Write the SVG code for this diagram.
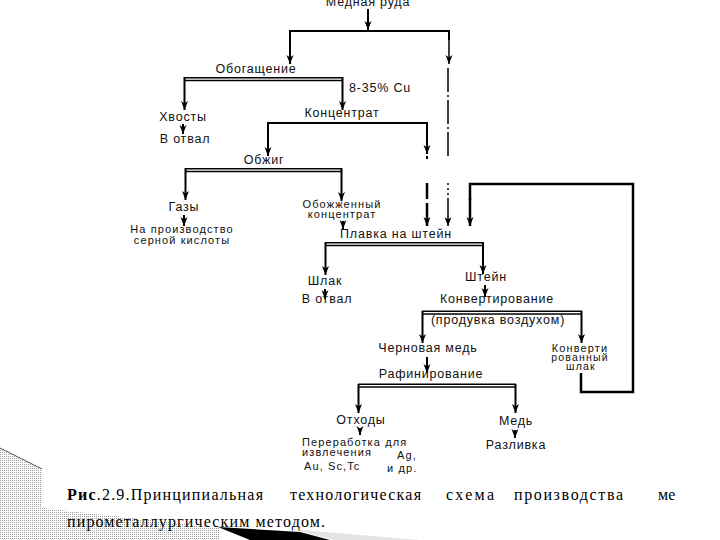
<svg xmlns="http://www.w3.org/2000/svg" width="720" height="540" viewBox="0 0 720 540">
<style>
  text { font-family: "Liberation Sans", Arial, sans-serif; font-size: 12.5px; fill: #111; letter-spacing: 0.8px; }
  .m { text-anchor: middle; }
  .t { font-size: 11px; letter-spacing: 1.1px; }
  .sm { font-size: 10.5px; letter-spacing: 1.2px; }
  .cap { font-family: "Liberation Serif", "Times New Roman", serif; font-size: 16px; letter-spacing: 0; fill: #000; }
  .ln { stroke: #000; stroke-width: 2; fill: none; }
  .th { stroke: #000; stroke-width: 2.5; fill: none; }
  .dl { stroke: #000; stroke-width: 1.5; fill: none; }
  .ar { marker-end: url(#ah); }
</style>
<defs>
  <marker id="ah" markerUnits="userSpaceOnUse" markerWidth="9" markerHeight="8" viewBox="0 0 9 8" refX="9" refY="4" orient="auto">
    <path d="M0,0.5 L9,4 L0,7.5 L2.5,4 z" fill="#000"/>
  </marker>
  <pattern id="dots" width="2" height="2" patternUnits="userSpaceOnUse">
    <rect width="2" height="2" fill="#fff"/>
    <rect width="1" height="1" fill="#9a9a9a"/>
  </pattern>
  <clipPath id="cut"><rect x="0" y="0" width="682" height="540"/></clipPath>
</defs>
<rect width="720" height="540" fill="#fff"/>

<g id="decoration">
  <polygon points="0,448 42,469 42,508 220,528 220,540 0,540" fill="url(#dots)"/>
  <line x1="0" y1="448" x2="42" y2="469" stroke="#555" stroke-width="1"/>
  <polygon points="218,527 300,532 330,540 250,540" fill="#000"/>
  <polygon points="290,529 420,540 335,540" fill="#e4e4e4"/>
</g>

<g id="connectors">
  <line class="ln ar" x1="368" y1="9" x2="368" y2="30"/>
  <path class="ln" d="M290,64 V31 H449 V40"/>
  <line class="ln ar" x1="290" y1="40" x2="290" y2="64"/>
  <line class="dl ar" x1="449" y1="40" x2="449" y2="64"/>
  <line class="dl" x1="448" y1="68" x2="448" y2="158" stroke-dasharray="24 3 2 3"/>
  <line class="dl" x1="448" y1="183" x2="448" y2="197" stroke-dasharray="2 3"/>
  <line class="dl ar" x1="448" y1="198" x2="448" y2="226"/>
  <line class="dl" x1="184" y1="77.8" x2="343" y2="77.8"/>
  <line class="dl" x1="184" y1="80.6" x2="343" y2="80.6"/>
  <line class="ln ar" x1="184.5" y1="77" x2="184.5" y2="110"/>
  <line class="ln ar" x1="342.5" y1="77" x2="342.5" y2="110"/>
  <line class="ln ar" x1="183" y1="124" x2="183" y2="134"/>
  <path class="ln" d="M268,140 V123 H427 V140"/>
  <line class="ln ar" x1="268" y1="135" x2="268" y2="156"/>
  <line class="ln ar" x1="427" y1="135" x2="427" y2="154"/>
  <rect x="426" y="156" width="2" height="3" fill="#000"/>
  <line class="th" x1="427" y1="183" x2="427" y2="199"/>
  <line class="th ar" x1="427" y1="203" x2="427" y2="226"/>
  <line class="dl" x1="185" y1="168.8" x2="342" y2="168.8"/>
  <line class="dl" x1="185" y1="171.6" x2="342" y2="171.6"/>
  <line class="ln ar" x1="185.5" y1="168" x2="185.5" y2="200"/>
  <line class="ln ar" x1="341.5" y1="168" x2="341.5" y2="201"/>
  <line class="ln ar" x1="184" y1="215" x2="184" y2="226"/>
  <line class="ln ar" x1="343" y1="221" x2="343" y2="229"/>
  <line class="dl" x1="325" y1="242.8" x2="484" y2="242.8"/>
  <line class="dl" x1="325" y1="245.6" x2="484" y2="245.6"/>
  <line class="ln ar" x1="325.5" y1="242" x2="325.5" y2="275"/>
  <line class="ln ar" x1="483" y1="242" x2="483" y2="274"/>
  <line class="ln ar" x1="325" y1="289" x2="325" y2="299"/>
  <line class="ln ar" x1="485" y1="285" x2="485" y2="297"/>
  <line class="dl" x1="422" y1="311.3" x2="582" y2="311.3"/>
  <line class="dl" x1="422" y1="314" x2="582" y2="314"/>
  <line class="ln ar" x1="422.5" y1="311" x2="422.5" y2="343"/>
  <line class="ln ar" x1="581.5" y1="311" x2="581.5" y2="343"/>
  <line class="ln ar" x1="427" y1="357" x2="427" y2="373"/>
  <path class="th" d="M581,373 V392 H633 V184 H470 V200"/>
  <line class="th ar" x1="470" y1="198" x2="470" y2="226"/>
  <line class="dl" x1="358" y1="384.3" x2="516" y2="384.3"/>
  <line class="dl" x1="358" y1="387" x2="516" y2="387"/>
  <line class="ln ar" x1="358.5" y1="384" x2="358.5" y2="413"/>
  <line class="ln ar" x1="515.5" y1="384" x2="515.5" y2="413"/>
  <line class="ln ar" x1="360" y1="428" x2="360" y2="435"/>
  <line class="ln ar" x1="515" y1="430" x2="515" y2="438"/>
</g>

<g id="n-ruda"><text class="m" x="368" y="6">Медная руда</text></g>
<g id="n-obog"><text class="m" x="256" y="73">Обогащение</text></g>
<g id="n-cu"><text x="349" y="92">8-35% Cu</text></g>
<g id="n-hvost"><text class="m" x="183" y="121">Хвосты</text></g>
<g id="n-otval1"><text class="m" x="185" y="143">В отвал</text></g>
<g id="n-konc"><text class="m" x="342" y="117">Концентрат</text></g>
<g id="n-obzhig"><text class="m" x="264" y="164">Обжиг</text></g>
<g id="n-gazy"><text class="m" x="184" y="211">Газы</text></g>
<g id="n-proizv"><text class="m t" x="182" y="233">На производство</text><text class="m t" x="182" y="244">серной кислоты</text></g>
<g id="n-obozh"><text class="m t" x="342" y="208">Обожженный</text><text class="m t" x="342" y="218">концентрат</text></g>
<g id="n-plavka"><text class="m" x="396" y="238">Плавка на штейн</text></g>
<g id="n-shlak"><text class="m" x="325" y="285">Шлак</text></g>
<g id="n-otval2"><text class="m" x="327" y="303">В отвал</text></g>
<g id="n-shtein"><text class="m" x="486" y="281">Штейн</text></g>
<g id="n-konv"><text class="m" x="497" y="303">Конвертирование</text><text class="m" x="498" y="324">(продувка воздухом)</text></g>
<g id="n-chern"><text class="m" x="428" y="352">Черновая медь</text></g>
<g id="n-kshlak"><text class="m t" x="580" y="352">Конверти</text><text class="m sm" x="580" y="361">рованный</text><text class="m sm" x="581" y="370">шлак</text></g>
<g id="n-rafin"><text class="m" x="431" y="378">Рафинирование</text></g>
<g id="n-othod"><text class="m" x="361" y="424">Отходы</text></g>
<g id="n-pererab">
  <text class="t" x="302" y="446">Переработка для</text>
  <text class="t" x="302" y="456">извлечения</text>
  <text class="t" x="397" y="459">Ag,</text>
  <text class="t" x="304" y="470">Au, Sc,Tc</text>
  <text class="t" x="387" y="472">и др.</text>
</g>
<g id="n-med"><text class="m" x="516" y="425">Медь</text></g>
<g id="n-razliv"><text class="m" x="516" y="449">Разливка</text></g>

<g id="caption" clip-path="url(#cut)">
  <text class="cap" x="67" y="500" textLength="196" lengthAdjust="spacing"><tspan font-weight="bold">Рис</tspan>.2.9.Принципиальная</text>
  <text class="cap" x="290" y="500" textLength="131" lengthAdjust="spacing">технологическая</text>
  <text class="cap" x="446" y="500" textLength="48" lengthAdjust="spacing">схема</text>
  <text class="cap" x="514" y="500" textLength="109" lengthAdjust="spacing">производства</text>
  <text class="cap" x="658" y="500">ме</text>
  <text class="cap" x="67" y="527" textLength="258" lengthAdjust="spacing">пирометаллургическим методом.</text>
</g>
</svg>
